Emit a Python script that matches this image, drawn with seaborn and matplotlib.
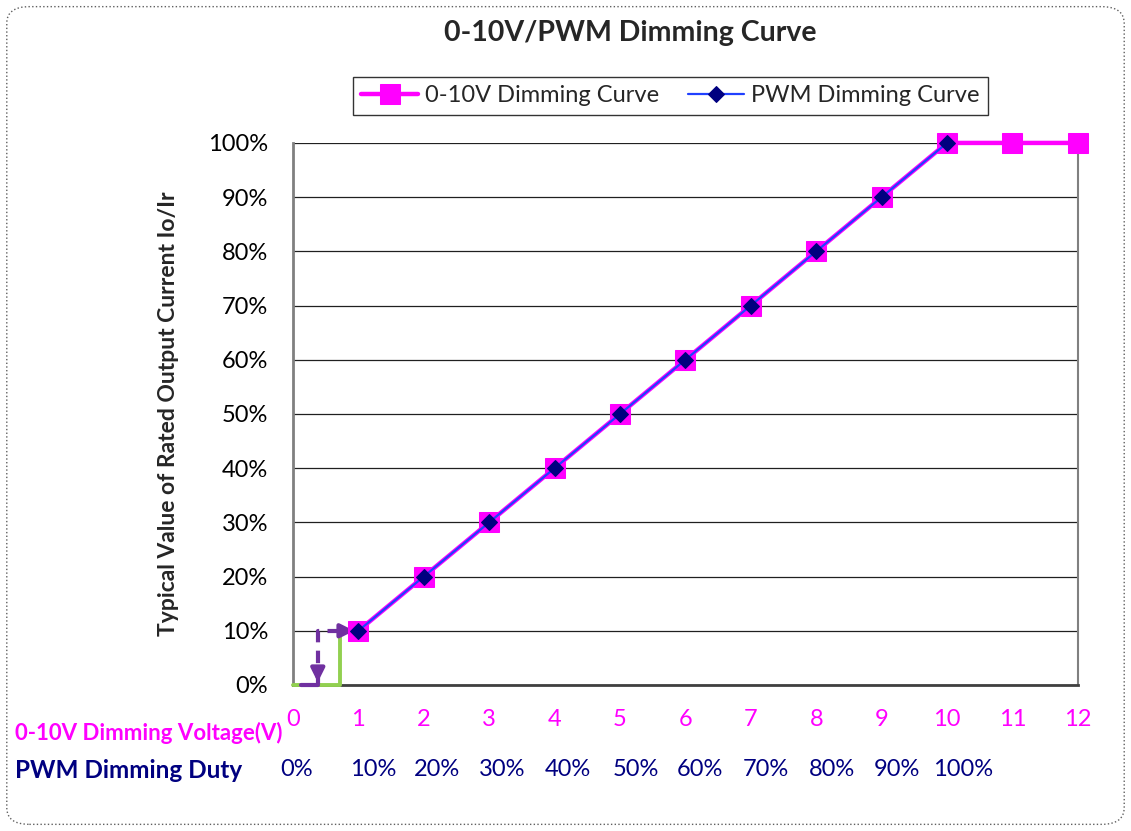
import matplotlib
matplotlib.use("Agg")
import matplotlib.pyplot as plt
import seaborn as sns
import pandas as pd
from matplotlib.patches import FancyBboxPatch, FancyArrowPatch

sns.set_theme(style="white")
plt.rcParams['font.family'] = ['Lato', 'DejaVu Sans']

# ---- data ----
volt_x = [1, 2, 3, 4, 5, 6, 7, 8, 9, 10, 11, 12]
volt_y = [0.10, 0.20, 0.30, 0.40, 0.50, 0.60, 0.70, 0.80, 0.90, 1.00, 1.00, 1.00]
pwm_x = [1, 2, 3, 4, 5, 6, 7, 8, 9, 10]
pwm_y = [0.10, 0.20, 0.30, 0.40, 0.50, 0.60, 0.70, 0.80, 0.90, 1.00]
volt_ticks = [0, 1, 2, 3, 4, 5, 6, 7, 8, 9, 10, 11, 12]
duty_pos = [0.06, 1.22, 2.2, 3.2, 4.2, 5.24, 6.22, 7.23, 8.24, 9.24, 10.24]
duty_labels = ["0%", "10%", "20%", "30%", "40%", "50%", "60%", "70%", "80%", "90%", "100%"]
y_ticks = [0, 0.1, 0.2, 0.3, 0.4, 0.5, 0.6, 0.7, 0.8, 0.9, 1.0]
y_labels = ["0%", "10%", "20%", "30%", "40%", "50%", "60%", "70%", "80%", "90%", "100%"]
# hysteresis sketch near 0V
green_x = [0, 0.72, 0.72]
green_y = [0, 0, 0.1]
purple_x = [0.72, 0.38, 0.38]
purple_y = [0.1, 0.1, 0.0]

MAGENTA = "#ff00ff"
NAVY = "#000080"
BLUE = "#2040ff"

fig = plt.figure(figsize=(11.31, 8.31), dpi=100)
ax = fig.add_axes([0.259, 0.1757, 0.694, 0.6523])

df_v = pd.DataFrame({"x": volt_x, "y": volt_y})
df_p = pd.DataFrame({"x": pwm_x, "y": pwm_y})

sns.lineplot(data=df_v, x="x", y="y", ax=ax, color=MAGENTA, linewidth=3.2,
             marker="s", markersize=14, markeredgecolor=MAGENTA,
             markerfacecolor=MAGENTA, label="0-10V Dimming Curve",
             clip_on=False, zorder=4)
sns.lineplot(data=df_p, x="x", y="y", ax=ax, color=BLUE, linewidth=1.6,
             marker="D", markersize=8, markeredgecolor=NAVY,
             markerfacecolor=NAVY, label="PWM Dimming Curve",
             clip_on=False, zorder=5)

# green hysteresis path
ax.plot(green_x, green_y, color="#92d050", linewidth=2.8, clip_on=False, zorder=3)
# purple dashed path with arrows
ax.plot(purple_x, purple_y, color="#7030a0", linewidth=3, linestyle=(0, (3, 2)),
        clip_on=False, zorder=3)
ax.add_patch(FancyArrowPatch((0.38, 0.03), (0.38, 0.0), arrowstyle="-|>",
                             mutation_scale=20, color="#7030a0", lw=3,
                             clip_on=False, zorder=3))
ax.add_patch(FancyArrowPatch((0.72, 0.1), (0.98, 0.1), arrowstyle="-|>",
                             mutation_scale=20, color="#7030a0", lw=3,
                             clip_on=False, zorder=3))
ax.plot([0.12, 0.38], [0, 0], color="#7030a0", linewidth=3, clip_on=False, zorder=3)

ax.set_xlim(0, 12)
ax.set_ylim(0, 1)
ax.set_xticks(volt_ticks)
ax.set_xticklabels([str(t) for t in volt_ticks], color=MAGENTA, fontsize=17)
ax.set_yticks(y_ticks)
ax.set_yticklabels(y_labels, fontsize=17, color="black")
ax.tick_params(axis="x", direction="in", length=6, width=1, color="#404040", pad=17)
ax.tick_params(axis="y", direction="out", length=5, width=1, color="#808080", pad=13)
ax.yaxis.grid(True, color="#202020", linewidth=0.9)
ax.xaxis.grid(False)
for s in ["left", "bottom", "right"]:
    ax.spines[s].set_visible(True)
    ax.spines[s].set_color("#808080")
ax.spines["left"].set_linewidth(2)
ax.spines["bottom"].set_linewidth(2)
ax.spines["bottom"].set_color("#404040")
ax.spines["right"].set_linewidth(1.5)
ax.spines["top"].set_visible(False)
ax.set_xlabel("")
ax.set_ylabel("Typical Value of Rated Output Current Io/Ir", fontsize=16.5,
              fontweight="bold", labelpad=21)

for p, lab in zip(duty_pos, duty_labels):
    ax.text(p, -0.155, lab, color=NAVY, fontsize=17, ha="center", va="center",
            transform=ax.transData, clip_on=False)

fig.text(0.013, 1 - 733 / 831, "0-10V Dimming Voltage(V)", color=MAGENTA,
         fontsize=16, fontweight="bold", ha="left", va="center")
fig.text(0.013, 1 - 770 / 831, "PWM Dimming Duty", color=NAVY,
         fontsize=17.5, fontweight="bold", ha="left", va="center")

fig.text(0.557, 1 - 33 / 831, "0-10V/PWM Dimming Curve", fontsize=20.5,
         fontweight="bold", ha="center", va="center")

leg = ax.legend(loc="center", bbox_to_anchor=(0.593, 1 - 96 / 831),
                bbox_transform=fig.transFigure, ncol=2, fontsize=17,
                frameon=True, fancybox=False, edgecolor="black",
                handlelength=2.4, columnspacing=1.2, handletextpad=0.3,
                borderpad=0.35)
leg.get_frame().set_linewidth(1.0)

fig.patches.append(FancyBboxPatch((0.006, 0.008), 0.988, 0.984,
                                  boxstyle="round,pad=0,rounding_size=0.02",
                                  transform=fig.transFigure, fill=False,
                                  edgecolor="#606060", linestyle=":",
                                  linewidth=1.0))

fig.savefig("out.png", dpi=100)
